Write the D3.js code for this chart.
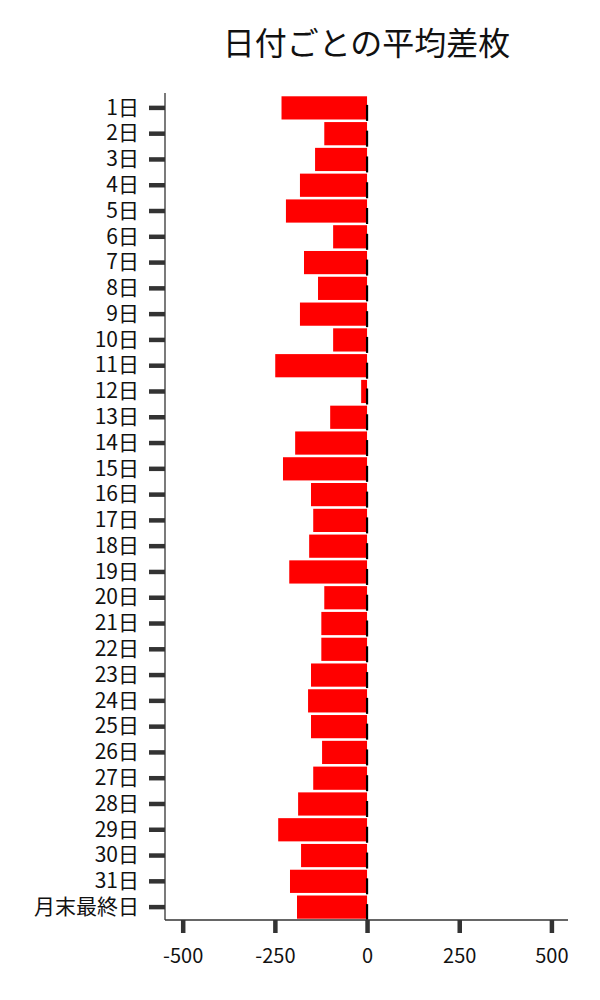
<!DOCTYPE html>
<html>
<head>
<meta charset="utf-8">
<script src="https://cdn.jsdelivr.net/npm/d3@7"></script>
<style>
  body { margin: 0; background: #fff; }
  text { font-family: "Noto Sans CJK JP", "Noto Sans", sans-serif; }
</style>
</head>
<body>
<div id="chart"></div>
<script>
// ------------------------------ DATA ------------------------------
var days = ["1日","2日","3日","4日","5日","6日","7日","8日","9日","10日",
            "11日","12日","13日","14日","15日","16日","17日","18日","19日","20日",
            "21日","22日","23日","24日","25日","26日","27日","28日","29日","30日",
            "31日","月末最終日"];
var avgDiff = [-232,-116,-141,-182,-220,-92,-171,-133,-182,-92,
               -249,-16,-100,-195,-228,-152,-146,-157,-211,-116,
               -124,-124,-152,-160,-152,-122,-146,-187,-241,-179,
               -209,-190];
var xTicks = [-500, -250, 0, 250, 500];
var title = "日付ごとの平均差枚";

// ------------------------------ LAYOUT ------------------------------
var width = 600,
    height = 1000,
    plotLeft = 165, plotRight = 568,
    spineTop = 93, bandTop = 95, plotBottom = 920;

var svg = d3.select("#chart").append("svg")
    .attr("width", width)
    .attr("height", height);

var x = d3.scaleLinear().domain([-548, 545]).range([plotLeft, plotRight]);
var y = d3.scaleBand().domain(days).range([bandTop, plotBottom]).paddingInner(0.1).paddingOuter(0.05);

// bars
svg.selectAll("rect.bar")
    .data(days)
    .enter()
    .append("rect")
    .attr("class", "bar")
    .attr("x", function (d, i) { return x(Math.min(0, avgDiff[i])); })
    .attr("y", function (d) { return y(d); })
    .attr("width", function (d, i) { return Math.abs(x(avgDiff[i]) - x(0)); })
    .attr("height", y.bandwidth())
    .attr("fill", "#ff0000");

// small black marks at zero
svg.selectAll("line.mark")
    .data(days)
    .enter()
    .append("line")
    .attr("class", "mark")
    .attr("x1", x(0)).attr("x2", x(0))
    .attr("y1", function (d) { return y(d) + y.bandwidth() / 2 - 3; })
    .attr("y2", function (d) { return y(d) + y.bandwidth() / 2 + 13; })
    .attr("stroke", "#000")
    .attr("stroke-width", 2.2);

// x axis
var xAxis = svg.append("g")
    .attr("transform", "translate(0," + plotBottom + ")")
    .call(d3.axisBottom(x).tickValues(xTicks).tickSize(13).tickPadding(16)
        .tickFormat(function (d) { return String(d); }));
xAxis.select(".domain").attr("stroke", "#333").attr("stroke-width", 1.3)
    .attr("d", "M" + plotLeft + ",0H" + plotRight);
xAxis.selectAll(".tick line").attr("stroke", "#333").attr("stroke-width", 4.5);
xAxis.selectAll(".tick text").attr("font-size", 20).attr("fill", "#111")
    .style("font-family", "'Noto Sans CJK JP', sans-serif");

// y axis
var yAxis = svg.append("g")
    .attr("transform", "translate(" + plotLeft + ",0)")
    .call(d3.axisLeft(y).tickSize(16).tickPadding(10));
yAxis.select(".domain").attr("stroke", "#333").attr("stroke-width", 1.3)
    .attr("d", "M0," + spineTop + "V" + plotBottom);
yAxis.selectAll(".tick line").attr("stroke", "#333").attr("stroke-width", 4.5);
yAxis.selectAll(".tick text").attr("font-size", 21).attr("fill", "#111")
    .style("font-family", "'Noto Sans CJK JP', sans-serif");

// title
svg.append("text")
    .attr("x", (plotLeft + plotRight) / 2)
    .attr("y", 55)
    .attr("text-anchor", "middle")
    .attr("font-size", 32)
    .attr("fill", "#111")
    .text(title);
</script>
</body>
</html>
